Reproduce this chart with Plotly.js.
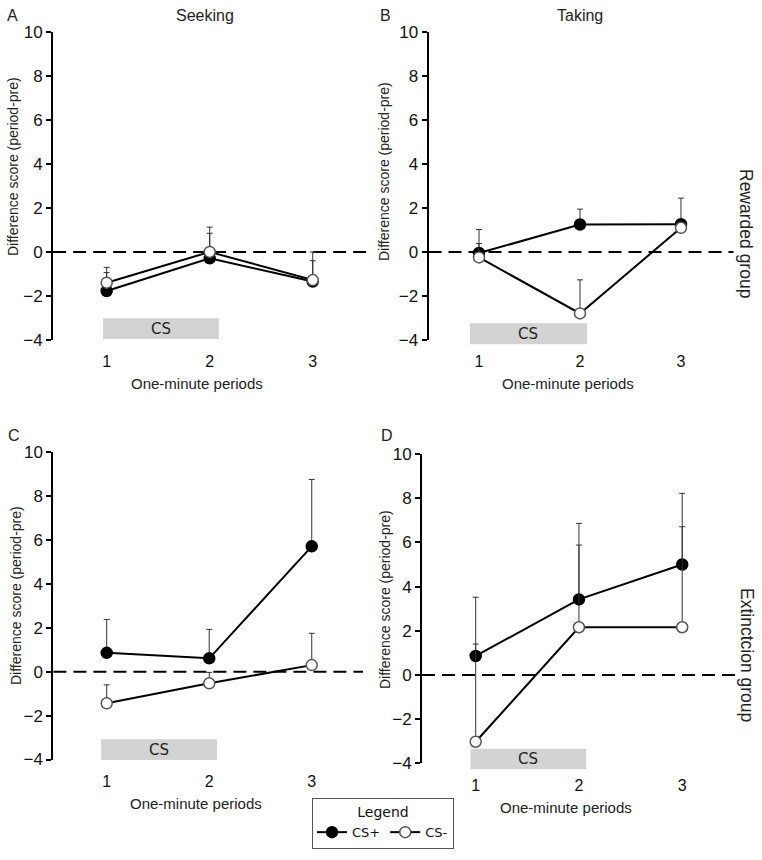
<!DOCTYPE html>
<html>
<head>
<meta charset="utf-8">
<script src="https://cdn.plot.ly/plotly-3.0.1.min.js"></script>
<style>html,body{margin:0;padding:0;background:#fff;}#chart{width:762px;height:860px;}</style>
</head>
<body>
<div id="chart"></div>
<script>
// ---- Data ----
const periods = [1, 2, 3];
const periodLabels = ['1', '2', '3'];
const yTicks = [-4, -2, 0, 2, 4, 6, 8, 10];

// A: Seeking, rewarded group
const seekRewCSplus = [-1.78, -0.29, -1.35];
const seekRewCSplusErr = [0.84, 1.14, 1.35];
const seekRewCSminus = [-1.40, 0.00, -1.28];
const seekRewCSminusErr = [0.70, 1.13, 0.88];

// B: Taking, rewarded group
const takeRewCSplus = [-0.05, 1.25, 1.26];
const takeRewCSplusErr = [1.07, 0.70, 1.19];
const takeRewCSminus = [-0.25, -2.80, 1.10];
const takeRewCSminusErr = [0.63, 1.53, 0.15];

// C: Seeking, extinction group
const seekExtCSplus = [0.86, 0.61, 5.71];
const seekExtCSplusErr = [1.52, 1.32, 3.05];
const seekExtCSminus = [-1.44, -0.53, 0.30];
const seekExtCSminusErr = [0.84, 0.50, 1.45];

// D: Taking, extinction group
const takeExtCSplus = [0.86, 3.42, 5.00];
const takeExtCSplusErr = [2.66, 3.44, 3.22];
const takeExtCSminus = [-3.02, 2.16, 2.16];
const takeExtCSminusErr = [4.42, 3.72, 4.55];

// CS period box extents (x in period units)
const csStart = [0.965, 0.91, 0.944, 0.95];
const csEnd = [2.09, 2.07, 2.076, 2.07];

// ---- Styling / layout ----
const W = 762, H = 860;
const AX = 'Liberation Sans, Arial, sans-serif';
const VF = 'DejaVu Sans, Verdana, sans-serif';

function series(x, y, err, filled, xa, ya, showLeg) {
  return {
    type: 'scatter', mode: 'lines+markers',
    x: x, y: y, xaxis: xa, yaxis: ya,
    name: filled ? 'CS+' : 'CS-',
    legendgroup: filled ? 'p' : 'm',
    showlegend: showLeg,
    line: {color: '#000', width: 2},
    marker: {size: 11, color: filled ? '#000' : '#fff',
             line: {color: filled ? '#000' : '#555', width: 1.5}},
    error_y: {type: 'data', symmetric: false, array: err,
              arrayminus: err.map(() => 0), color: '#333', thickness: 1, width: 3},
    hoverinfo: 'x+y'
  };
}

const traces = [
  series(periods, seekRewCSplus, seekRewCSplusErr, true, 'x', 'y', true),
  series(periods, seekRewCSminus, seekRewCSminusErr, false, 'x', 'y', true),
  series(periods, takeRewCSplus, takeRewCSplusErr, true, 'x2', 'y2', false),
  series(periods, takeRewCSminus, takeRewCSminusErr, false, 'x2', 'y2', false),
  series(periods, seekExtCSplus, seekExtCSplusErr, true, 'x3', 'y3', false),
  series(periods, seekExtCSminus, seekExtCSminusErr, false, 'x3', 'y3', false),
  series(periods, takeExtCSplus, takeExtCSplusErr, true, 'x4', 'y4', false),
  series(periods, takeExtCSminus, takeExtCSminusErr, false, 'x4', 'y4', false)
];

const px = v => v / W;
const py = v => 1 - v / H;

function xax(domain, range, anchor) {
  return {domain: domain, range: range, anchor: anchor, showline: false, showgrid: false, zeroline: false,
          tickmode: 'array', tickvals: periods, ticktext: periodLabels,
          ticks: 'outside', ticklen: 7, tickcolor: 'rgba(0,0,0,0)',
          tickfont: {family: AX, size: 16, color: '#111'}, fixedrange: true};
}
function yax(domain, anchor) {
  return {domain: domain, range: [-4, 10], anchor: anchor, showline: true, linecolor: '#000', linewidth: 2,
          showgrid: false, zeroline: false, tickmode: 'array', tickvals: yTicks,
          ticks: 'outside', ticklen: 5, tickwidth: 2, tickcolor: '#000',
          tickfont: {family: AX, size: 17, color: '#111'}, fixedrange: true};
}

const xDomA = [px(53.1), px(366.3)], xDomB = [px(428.5), px(733.5)];
const xDomC = [px(53.4), px(363)], xDomD = [px(422), px(739)];
const yDomTop = [py(339.8), py(32.3)];
const yDomC = [py(759.5), py(452.2)], yDomD = [py(763.4), py(454)];

const csY = [[318.3, 339], [323.3, 344.3], [739.3, 760], [748.7, 769.3]];
const xrefs = ['x', 'x2', 'x3', 'x4'];
const yrefs = ['y', 'y2', 'y3', 'y4'];

const shapes = [];
const annotations = [];
for (let i = 0; i < 4; i++) {
  shapes.push({type: 'line', xref: xrefs[i] + ' domain', yref: yrefs[i], x0: 0, x1: 1, y0: 0, y1: 0,
               line: {color: '#000', width: 2, dash: '13px,7px'}, layer: 'below'});
  shapes.push({type: 'rect', xref: xrefs[i], yref: 'paper', x0: csStart[i], x1: csEnd[i],
               y0: py(csY[i][1]), y1: py(csY[i][0]), fillcolor: '#d3d3d3', line: {width: 0}, layer: 'below'});
  annotations.push({xref: xrefs[i], yref: 'paper', x: (csStart[i] + csEnd[i]) / 2,
                    y: py((csY[i][0] + csY[i][1]) / 2), text: 'CS', showarrow: false,
                    xanchor: 'center', yanchor: 'middle', font: {family: VF, size: 15, color: '#222'}});
}

function ann(x, y, text, size, angle, family) {
  annotations.push({xref: 'paper', yref: 'paper', x: px(x), y: py(y), text: text, showarrow: false,
                    xanchor: 'center', yanchor: 'middle', textangle: angle || 0,
                    font: {family: family || AX, size: size, color: '#222'}});
}
// panel letters and titles
ann(12, 15, 'A', 16); ann(385, 15, 'B', 16); ann(14, 435, 'C', 16); ann(387, 435, 'D', 16);
ann(205, 15, 'Seeking', 16); ann(580, 15, 'Taking', 16);
// y-axis titles
const yTitle = 'Difference score (period-pre)';
ann(13, 167, yTitle, 14, -90); ann(384, 172, yTitle, 14, -90);
ann(16, 596, yTitle, 14, -90); ann(385, 600, yTitle, 14, -90);
// x-axis titles
const xTitle = 'One-minute periods';
ann(197, 383, xTitle, 15); ann(568, 383, xTitle, 15);
ann(196, 803, xTitle, 15); ann(566, 807, xTitle, 15);
// group labels
ann(746, 233, 'Rewarded group', 17.5, 90);
ann(747, 655, 'Extinctcion group', 17.5, 90);

const layout = {
  width: W, height: H, margin: {l: 0, r: 0, t: 0, b: 0},
  paper_bgcolor: '#fff', plot_bgcolor: 'rgba(0,0,0,0)',
  xaxis: xax(xDomA, [0.48, 3.52], 'y'), yaxis: yax(yDomTop, 'x'),
  xaxis2: xax(xDomB, [0.5, 3.52], 'y2'), yaxis2: yax(yDomTop, 'x2'),
  xaxis3: xax(xDomC, [0.48, 3.5], 'y3'), yaxis3: yax(yDomC, 'x3'),
  xaxis4: xax(xDomD, [0.48, 3.55], 'y4'), yaxis4: yax(yDomD, 'x4'),
  shapes: shapes, annotations: annotations,
  showlegend: true,
  legend: {x: px(383), y: py(798), xanchor: 'center', yanchor: 'top', orientation: 'h',
           bgcolor: '#fff', bordercolor: '#555', borderwidth: 1, itemwidth: 30,
           font: {family: VF, size: 13, color: '#111'},
           title: {text: 'Legend', side: 'top center', font: {family: VF, size: 14, color: '#111'}}}
};

Plotly.newPlot('chart', traces, layout, {staticPlot: true, displayModeBar: false});
</script>
</body>
</html>
